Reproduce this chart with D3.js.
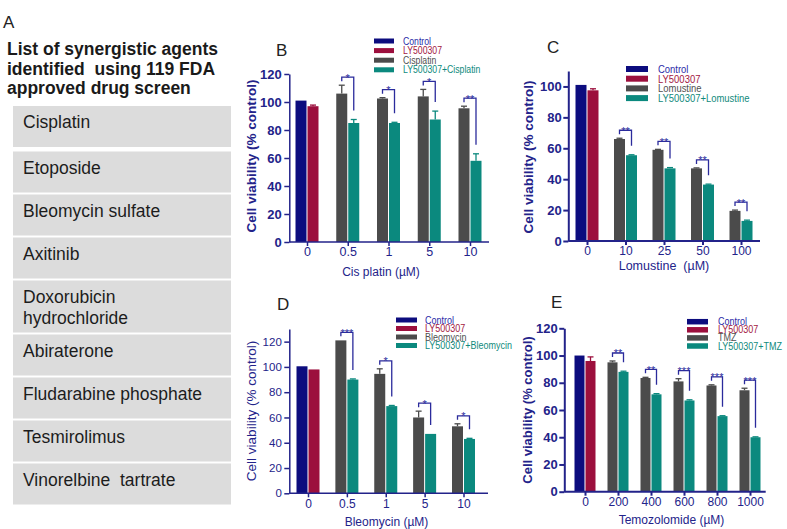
<!DOCTYPE html>
<html>
<head>
<meta charset="utf-8">
<script src="https://cdn.jsdelivr.net/npm/d3@7"></script>
<style>
  body { margin: 0; background: #fff; }
  svg { display: block; }
  text { font-family: Arial, "Liberation Sans", sans-serif; white-space: pre; }
</style>
</head>
<body>
<svg id="fig" width="787" height="529"></svg>
<script>
// ---------- panel A : screen hits
const screenTitle = ["List of synergistic agents", "identified  using 119 FDA", "approved drug screen"];
const agents = [["Cisplatin"], ["Etoposide"], ["Bleomycin sulfate"], ["Axitinib"],
  ["Doxorubicin", "hydrochloride"], ["Abiraterone"], ["Fludarabine phosphate"],
  ["Tesmirolimus"], ["Vinorelbine  tartrate"]];

// ---------- panel B : cisplatin
const seriesB = ["Control", "LY500307", "Cisplatin", "LY500307+Cisplatin"];
const doseB = ["0", "0.5", "1", "5", "10"];
const baseB = [101, 97], baseErrB = [0, 0.8];
const drugB = [106, 102.5, 104, 95.5], drugErrB = [6, 0.6, 5, 1.5];
const comboB = [85, 85, 87.5, 58], comboErrB = [2.5, 0.5, 6, 5];
const starsB = ["*", "*", "*", "**"];
const yTicksB = [0, 20, 40, 60, 80, 100, 120];

// ---------- panel C : lomustine
const seriesC = ["Control", "LY500307", "Lomustine", "LY500307+Lomustine"];
const doseC = ["0", "10", "25", "50", "100"];
const baseC = [101, 97.5], baseErrC = [0, 1];
const drugC = [66, 59, 47, 19.5], drugErrC = [0.5, 0.3, 0.3, 0.5];
const comboC = [55.5, 47, 36.5, 13], comboErrC = [0.3, 0.5, 0.3, 0.5];
const starsC = ["**", "**", "**", "**"];
const yTicksC = [0, 20, 40, 60, 80, 100];

// ---------- panel D : bleomycin
const seriesD = ["Control", "LY500307", "Bleomycin", "LY500307+Bleomycin"];
const doseD = ["0", "0.5", "1", "5", "10"];
const baseD = [100.5, 98], baseErrD = [0, 0];
const drugD = [121, 94.5, 60, 53], drugErrD = [0, 4, 5, 2];
const comboD = [90, 69, 47, 43], comboErrD = [0.5, 0.5, 0, 0.5];
const starsD = ["***", "*", "*", "*"];
const yTicksD = [0, 20, 40, 60, 80, 100, 120];

// ---------- panel E : temozolomide
const seriesE = ["Control", "LY500307", "TMZ", "LY500307+TMZ"];
const doseE = ["0", "200", "400", "600", "800", "1000"];
const baseE = [100, 96], baseErrE = [0, 3];
const drugE = [95, 83.5, 81, 78, 74.5], drugErrE = [1, 0.5, 2, 0.5, 1.5];
const comboE = [88, 71.5, 67, 55.5, 40], comboErrE = [0.5, 0.5, 0.5, 0.3, 0.3];
const starsE = ["**", "**", "***", "***", "***"];
const yTicksE = [0, 20, 40, 60, 80, 100, 120];

const barColors = ["#0c0c7e", "#9c0f3d", "#4b4b4b", "#0b897e"];
const legendText = ["#2a2aa8", "#a3173f", "#505050", "#0f8a7c"];
const navy = "#23238a";

const svg = d3.select("#fig");

// ---------- panel A
svg.append("text").attr("x", 3).attr("y", 28).attr("font-size", 17).attr("fill", "#222").text("A");
svg.append("g").selectAll("text").data(screenTitle).join("text")
  .attr("x", 7).attr("y", (d, i) => 55 + i * 19.5)
  .attr("font-size", 17.5).attr("font-weight", "bold").attr("fill", "#1a1a1a")
  .text(d => d);

let boxTop = 106;
const boxes = agents.map((lines, i) => {
  const h = 41 + (lines.length - 1) * 11;
  const b = {lines, y: boxTop, h};
  boxTop += h + (i === 0 ? 4.5 : 2);
  return b;
});
const rowA = svg.append("g").selectAll("g").data(boxes).join("g")
  .attr("transform", d => `translate(13,${d.y})`);
rowA.append("rect").attr("width", 218).attr("height", d => d.h).attr("fill", "#dcdcdc");
rowA.each(function(d) {
  d3.select(this).selectAll("text").data(d.lines).join("text")
    .attr("x", 10).attr("y", (t, j) => 22 + j * 21.5)
    .attr("font-size", 17.5).attr("fill", "#1c1c1c").text(t => t);
});

// ---------- bar panels
function barPanel(p) {
  const g = svg.append("g");
  const x = d3.scalePoint().domain(p.doses).range(p.xr);
  const y = d3.scaleLinear().domain(p.yDomain).range(p.yr);
  const bw = p.bw, gap = 1;

  const rows = [
    {dose: p.doses[0], k: 0, v: p.base[0], e: p.baseErr[0]},
    {dose: p.doses[0], k: 1, v: p.base[1], e: p.baseErr[1]}
  ];
  p.doses.slice(1).forEach((d, i) => {
    rows.push({dose: d, k: 2, v: p.drug[i], e: p.drugErr[i]});
    rows.push({dose: d, k: 3, v: p.combo[i], e: p.comboErr[i]});
  });
  const bx = d => d.k % 2 === 0 ? x(d.dose) - bw - gap / 2 : x(d.dose) + gap / 2;

  // error bars (upper half only)
  const eb = g.append("g").selectAll("g").data(rows.filter(d => d.e > 0)).join("g")
    .attr("stroke", d => barColors[d.k]).attr("stroke-width", 1.3);
  eb.append("line").attr("x1", d => bx(d) + bw / 2).attr("x2", d => bx(d) + bw / 2)
    .attr("y1", d => y(d.v)).attr("y2", d => y(d.v + d.e));
  eb.append("line").attr("x1", d => bx(d) + bw / 2 - 3).attr("x2", d => bx(d) + bw / 2 + 3)
    .attr("y1", d => y(d.v + d.e)).attr("y2", d => y(d.v + d.e));

  g.append("g").selectAll("rect").data(rows).join("rect")
    .attr("x", bx).attr("width", bw)
    .attr("y", d => y(d.v)).attr("height", d => y(0) - y(d.v))
    .attr("fill", d => barColors[d.k]);

  // significance brackets
  const sig = p.doses.slice(1).map((d, i) => ({
    dose: d, s: p.stars[i],
    yb: y(p.drug[i] + p.drugErr[i]) - 8,
    yr: y(p.combo[i] + p.comboErr[i]) - 9
  }));
  const sg = g.append("g").selectAll("g").data(sig).join("g");
  sg.append("path")
    .attr("d", d => {
      const xl = x(d.dose) - gap / 2 - bw / 2, xr = x(d.dose) + gap / 2 + bw / 2;
      return `M${xl},${d.yb + 4}V${d.yb}H${xr}V${d.yr}`;
    })
    .attr("fill", "none").attr("stroke", "#2b2b9c").attr("stroke-width", 1.3);
  sg.append("text").attr("x", d => x(d.dose)).attr("y", d => d.yb + 4.5)
    .attr("text-anchor", "middle").attr("font-size", 11).attr("fill", "#2b2b9c")
    .text(d => d.s);

  // axes
  const yAxis = g.append("g").attr("transform", `translate(${p.ax},0)`)
    .call(d3.axisLeft(y).tickValues(p.yTicks).tickSize(5).tickSizeOuter(0).tickPadding(p.yPad));
  yAxis.selectAll("path,line").attr("stroke", navy).attr("stroke-width", p.axW);
  yAxis.selectAll("text").attr("fill", navy).attr("font-size", p.yFs)
    .attr("font-weight", p.bold ? "bold" : "normal").attr("font-family", "Arial, 'Liberation Sans', sans-serif");

  const xAxis = g.append("g").attr("transform", `translate(0,${y(0)})`)
    .call(d3.axisBottom(x).tickSize(4).tickSizeOuter(0).tickPadding(p.xPad));
  xAxis.select(".domain").remove();
  xAxis.selectAll("line").attr("stroke", navy).attr("stroke-width", p.axW);
  xAxis.selectAll("text").attr("fill", navy).attr("font-size", p.xFs)
    .attr("font-family", "Arial, 'Liberation Sans', sans-serif");
  g.append("line").attr("x1", p.ax).attr("x2", p.axEnd).attr("y1", y(0)).attr("y2", y(0))
    .attr("stroke", navy).attr("stroke-width", p.axW);

  g.append("text").attr("x", p.xLab[0]).attr("y", p.xLab[1]).attr("text-anchor", "middle")
    .attr("font-size", p.xLabFs).attr("fill", navy).text(p.xLabel);
  g.append("text").attr("transform", `translate(${p.yLab[0]},${p.yLab[1]}) rotate(-90)`)
    .attr("text-anchor", "middle").attr("dy", "0.35em")
    .attr("font-size", p.yLabFs).attr("font-weight", p.bold ? "bold" : "normal")
    .attr("fill", navy).text("Cell viability (% control)");

  g.append("text").attr("x", p.letter[1]).attr("y", p.letter[2]).attr("font-size", 17)
    .attr("fill", "#222").text(p.letter[0]);

  // legend: [x, y, row step, swatch w, swatch h, text offset, font size, horizontal squeeze]
  const L = p.leg;
  const lg = g.append("g").selectAll("g").data(p.series).join("g")
    .attr("transform", (d, i) => `translate(${L[0]},${L[1] + i * L[2]})`);
  lg.append("rect").attr("x", 0).attr("y", -L[4] / 2).attr("width", L[3]).attr("height", L[4])
    .attr("fill", (d, i) => barColors[i]);
  lg.append("text").attr("transform", `translate(${L[5]},0) scale(${L[7]},1)`)
    .attr("dy", "0.35em").attr("font-size", L[6])
    .attr("fill", (d, i) => legendText[i]).text(d => d);
}

barPanel({letter: ["B", 276, 56], series: seriesB, doses: doseB, base: baseB, baseErr: baseErrB,
  drug: drugB, drugErr: drugErrB, combo: comboB, comboErr: comboErrB, stars: starsB, yTicks: yTicksB,
  yDomain: [0, 120], yr: [242, 74], xr: [307, 470], ax: 289.3, axEnd: 489, bw: 11,
  bold: true, yFs: 13, xFs: 12.5, yPad: 2.5, xPad: 1.5, axW: 1.5,
  xLabel: "Cis platin (\u00b5M)", xLab: [381, 276], xLabFs: 12,
  yLab: [251, 156], yLabFs: 13.5, leg: [374, 41, 9.6, 20, 5, 29, 10, 0.87]});

barPanel({letter: ["C", 547, 53], series: seriesC, doses: doseC, base: baseC, baseErr: baseErrC,
  drug: drugC, drugErr: drugErrC, combo: comboC, comboErr: comboErrC, stars: starsC, yTicks: yTicksC,
  yDomain: [0, 110], yr: [241, 71], xr: [587, 741], ax: 568.3, axEnd: 760, bw: 11,
  bold: true, yFs: 13, xFs: 12, yPad: 1.6, xPad: 1.5, axW: 2,
  xLabel: "Lomustine  (\u00b5M)", xLab: [664, 270], xLabFs: 12.5,
  yLab: [528, 157], yLabFs: 13.5, leg: [626, 69, 9.7, 22, 6, 32, 11, 0.86]});

barPanel({letter: ["D", 277, 310], series: seriesD, doses: doseD, base: baseD, baseErr: baseErrD,
  drug: drugD, drugErr: drugErrD, combo: comboD, comboErr: comboErrD, stars: starsD, yTicks: yTicksD,
  yDomain: [0, 130], yr: [493.3, 329], xr: [308, 463.5], ax: 289.3, axEnd: 488, bw: 11,
  bold: false, yFs: 11.5, xFs: 12, yPad: 2.5, xPad: 2, axW: 1.5,
  xLabel: "Bleomycin (\u00b5M)", xLab: [386.5, 526], xLabFs: 12,
  yLab: [251, 411], yLabFs: 13.5, leg: [396, 320, 8.5, 21, 5, 29, 10, 0.9]});

barPanel({letter: ["E", 551, 308], series: seriesE, doses: doseE, base: baseE, baseErr: baseErrE,
  drug: drugE, drugErr: drugErrE, combo: comboE, comboErr: comboErrE, stars: starsE, yTicks: yTicksE,
  yDomain: [0, 120], yr: [491.7, 328.3], xr: [585, 750], ax: 564.3, axEnd: 765.7, bw: 10,
  bold: true, yFs: 13, xFs: 12, yPad: 1.5, xPad: 1.5, axW: 2,
  xLabel: "Temozolomide (\u00b5M)", xLab: [671.5, 524], xLabFs: 12,
  yLab: [527, 410], yLabFs: 13, leg: [687, 321.7, 8.1, 21, 5.5, 31, 10, 0.9]});
</script>
</body>
</html>
